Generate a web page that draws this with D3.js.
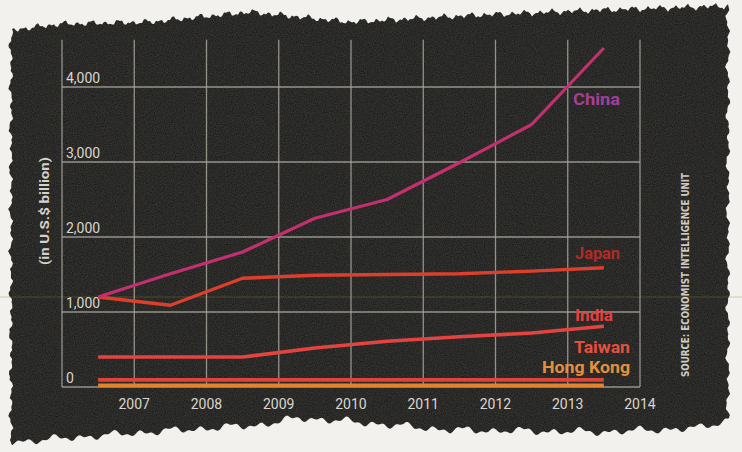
<!DOCTYPE html>
<html>
<head>
<meta charset="utf-8">
<script src="https://cdn.jsdelivr.net/npm/d3@7"></script>
<style>
  html, body { margin: 0; padding: 0; background: #f2f1ed; }
  svg { display: block; }
</style>
</head>
<body>
<svg id="chart" width="742" height="452"></svg>
<script>
// ---------------- DATA ----------------
const tickYears = [2006, 2007, 2008, 2009, 2010, 2011, 2012, 2013, 2014];
const tickLabels = ["", "2007", "2008", "2009", "2010", "2011", "2012", "2013", "2014"];
const periods = [2006.5, 2007.5, 2008.5, 2009.5, 2010.5, 2011.5, 2012.5, 2013.5];
const yTicks = [0, 1000, 2000, 3000, 4000];
const yTickLabels = ["0", "1,000", "2,000", "3,000", "4,000"];
const china    = [1200, 1510, 1800, 2250, 2500, 2990, 3500, 4520];
const japan    = [1200, 1090, 1450, 1490, 1500, 1510, 1545, 1590];
const india    = [400, 400, 400, 520, 610, 670, 720, 810];
const taiwan   = [95, 95, 95, 95, 95, 95, 95, 95];
const hongKong = [22, 22, 22, 22, 22, 22, 22, 22];
const seriesNames = ["China", "Japan", "India", "Taiwan", "Hong Kong"];

// ---------------- SETUP ----------------
const svg = d3.select("#chart");
const W = 742, H = 452;

const x = d3.scaleLinear().domain([2006, 2014]).range([62, 640]);
const y = d3.scaleLinear().domain([0, 4000]).range([387, 87]);
const yTop = 4630;

// texture filter
const defs = svg.append("defs");
const f = defs.append("filter").attr("id", "grain").attr("x", 0).attr("y", 0).attr("width", 1).attr("height", 1);
f.append("feTurbulence").attr("type", "fractalNoise").attr("baseFrequency", 0.9).attr("numOctaves", 2).attr("seed", 3).attr("result", "n");
f.append("feColorMatrix").attr("in", "n").attr("type", "matrix")
  .attr("values", "0 0 0 0 0.40  0 0 0 0 0.39  0 0 0 0 0.35  0 0 0 0.10 0").attr("result", "c");
f.append("feComposite").attr("in", "c").attr("in2", "SourceGraphic").attr("operator", "in").attr("result", "t");
f.append("feMerge").selectAll("feMergeNode").data(["SourceGraphic", "t"]).join("feMergeNode").attr("in", d => d);

// torn paper outline (deterministic, irregular jitter)
function jit(t, a) {
  return a * (Math.sin(t * 1.13) * 0.45 + Math.sin(t * 2.71 + 1) * 0.3 + Math.sin(t * 0.57 + 2) * 0.25);
}
const topBase = d3.scaleLinear().domain([12, 60, 150, 250, 350, 480, 600, 728]).range([30, 24, 22, 12, 22, 15, 10, 6]);
const botBase = d3.scaleLinear().domain([12, 150, 260, 300, 330, 450, 600, 700, 728]).range([442, 432, 425, 418, 420, 430, 432, 428, 420]);
const pts = [];
for (let xx = 12; xx <= 728; xx += 2) pts.push([xx, topBase(xx) + jit(xx * 0.41, 4)]);
for (let yy = 10; yy <= 420; yy += 3) pts.push([728 + jit(yy * 0.23, 3), yy]);
for (let xx = 728; xx >= 12; xx -= 2) pts.push([xx, botBase(xx) + jit(xx * 0.19 + 5, 5)]);
for (let yy = 440; yy >= 30; yy -= 3) pts.push([11 + jit(yy * 0.27 + 3, 3), yy]);
svg.append("path").attr("d", d3.line()(pts) + "Z").attr("fill", "#161614").attr("filter", "url(#grain)");

// faint scan artifact
svg.append("line").attr("x1", 0).attr("x2", W).attr("y1", 297).attr("y2", 297)
  .attr("stroke", "#8c8a3a").attr("stroke-opacity", 0.35).attr("stroke-width", 1);

// ---------------- GRID ----------------
const gridColor = "#a8a49b";
svg.append("g").selectAll("line").data(tickYears).join("line")
  .attr("x1", d => x(d)).attr("x2", d => x(d))
  .attr("y1", y(yTop)).attr("y2", y(0))
  .attr("stroke", gridColor).attr("stroke-width", 1.3).attr("stroke-opacity", 0.85);
svg.append("g").selectAll("line").data(yTicks).join("line")
  .attr("x1", x(2006)).attr("x2", x(2014))
  .attr("y1", d => y(d)).attr("y2", d => y(d))
  .attr("stroke", gridColor).attr("stroke-width", 1.4).attr("stroke-opacity", 0.85);

// y tick labels
svg.append("g").selectAll("text").data(yTicks).join("text")
  .attr("x", x(2006) + 4).attr("y", d => y(d) - 4)
  .attr("font-family", "Roboto, 'Liberation Sans', sans-serif").attr("font-size", 14)
  .attr("fill", "#d9d6cf")
  .text((d, i) => yTickLabels[i]);

// x tick labels
svg.append("g").selectAll("text").data(tickYears).join("text")
  .attr("x", d => x(d)).attr("y", 409)
  .attr("text-anchor", "middle")
  .attr("font-family", "Roboto, 'Liberation Sans', sans-serif").attr("font-size", 14)
  .attr("fill", "#d9d6cf")
  .text((d, i) => tickLabels[i]);

// y title
svg.append("text")
  .attr("transform", "translate(45,211) rotate(-90)")
  .attr("text-anchor", "middle").attr("dominant-baseline", "central")
  .attr("font-family", "Roboto, 'Liberation Sans', sans-serif").attr("font-weight", "bold").attr("font-size", 12)
  .attr("textLength", 108).attr("lengthAdjust", "spacingAndGlyphs")
  .attr("fill", "#d6d2ca")
  .text("(in U.S.$ billion)");

// source
svg.append("text")
  .attr("transform", "translate(685,275) rotate(-90)")
  .attr("text-anchor", "middle").attr("dominant-baseline", "central")
  .attr("font-family", "'DejaVu Sans Condensed', 'Liberation Sans', sans-serif").attr("font-weight", "bold").attr("font-size", 10)
  .attr("textLength", 204).attr("lengthAdjust", "spacingAndGlyphs")
  .attr("fill", "#cfcbc2")
  .text("SOURCE: ECONOMIST INTELLIGENCE UNIT");

// ---------------- LINES ----------------
const lineGen = d3.line().x((d, i) => x(periods[i])).y(d => y(d));
const series = [
  { name: seriesNames[4], values: hongKong, color: "#e2842e", w: 3.6 },
  { name: seriesNames[3], values: taiwan,   color: "#e0433a", w: 3.6 },
  { name: seriesNames[2], values: india,    color: "#e3443f", w: 3.6 },
  { name: seriesNames[1], values: japan,    color: "#dd3f2c", w: 3.4 },
  { name: seriesNames[0], values: china,    color: "#c2306f", w: 3.2 }
];
svg.append("g").selectAll("path").data(series).join("path")
  .attr("d", d => lineGen(d.values))
  .attr("fill", "none").attr("stroke", d => d.color).attr("stroke-width", d => d.w)
  .attr("stroke-linejoin", "round");

// labels
const labels = [
  { text: seriesNames[0], x: 573, y: 105, len: 47, color: "#a33f97" },
  { text: seriesNames[1], x: 575, y: 259, len: 45, color: "#b02b26" },
  { text: seriesNames[2], x: 575, y: 321, len: 38, color: "#e2423f" },
  { text: seriesNames[3], x: 574, y: 353, len: 56, color: "#e4503f" },
  { text: seriesNames[4], x: 542, y: 373, len: 88, color: "#e2903f" }
];
svg.append("g").selectAll("text").data(labels).join("text")
  .attr("x", d => d.x).attr("y", d => d.y)
  .attr("font-family", "Roboto, 'Liberation Sans', sans-serif").attr("font-weight", "bold").attr("font-size", 16)
  .attr("textLength", d => d.len).attr("lengthAdjust", "spacingAndGlyphs")
  .attr("fill", d => d.color)
  .text(d => d.text);
</script>
</body>
</html>
